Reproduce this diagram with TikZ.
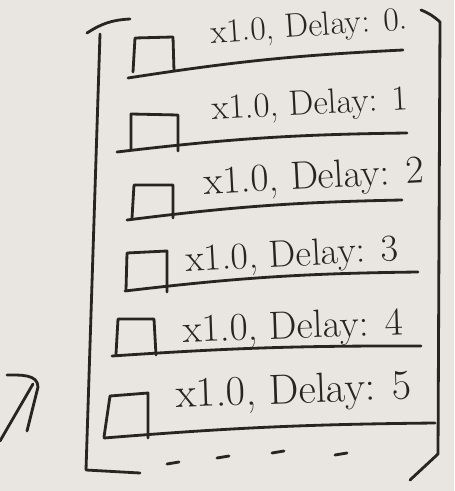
\documentclass[tikz,border=0pt]{standalone}
\usepackage{tikz}
\usepackage{xcolor}

\definecolor{paper}{RGB}{233,230,225}
\definecolor{ink}{RGB}{40,36,32}

\tikzset{
    pen/.style={ink, line width=2pt, line cap=round, line join=round},
    label/.style={ink, font=\fontsize{#1}{#1}\selectfont, inner sep=0pt},
    label/.default=24
}

\begin{document}
\begin{tikzpicture}[x=0.025cm, y=-0.025cm]
    % Paper
    \fill[paper] (0,0) rectangle (454,491);
    \useasboundingbox (0,0) rectangle (454,491);

    % Left bracket
    \draw[pen] (87,33) to[bend left=15] (130,19);
    \draw[pen] (100,34) -- (86,470) -- (140,473);

    % Right bracket
    \draw[pen] (421,10) to[bend left=10] (440,22) -- (438,454) -- (410,480);

    % Row 0
    \draw[pen] (133,72) -- (135,38) -- (173,37) -- (174,71);
    \draw[pen] (128,78) to[bend left=3] (403,50);
    \node[label=24, rotate=4] (t0) at (309,28) {x1.0, Delay: 0.};

    % Row 1
    \draw[pen] (131,150) -- (131,114) -- (178,115) -- (178,151);
    \draw[pen] (117,152) to[bend left=3] (407,133);
    \node[label=25, rotate=3] (t1) at (310,106) {x1.0, Delay: 1};

    % Row 2
    \draw[pen] (132,218) -- (134,185) -- (173,185) -- (173,218);
    \draw[pen] (127,220) to[bend left=3] (402,200);
    \node[label=28, rotate=3] (t2) at (314,179) {x1.0, Delay: 2};

    % Row 3
    \draw[pen] (126,290) -- (127,253) -- (167,251) -- (167,292);
    \draw[pen] (125,291) to[bend left=3] (418,272);
    \node[label=27, rotate=3] (t3) at (292,257) {x1.0, Delay: 3};

    % Row 4
    \draw[pen] (116,354) -- (118,319) -- (154,319) -- (156,355);
    \draw[pen] (112,356) to[bend left=2] (421,346);
    \node[label=28, rotate=2] (t4) at (293,329) {x1.0, Delay: 4};

    % Row 5
    \draw[pen] (104,437) -- (110,396) -- (148,393) -- (148,438);
    \draw[pen] (104,438) to[bend left=2] (435,423);
    \node[label=30, rotate=2] (t5) at (294,393) {x1.0, Delay: 5};

    % More rows below
    \foreach \x/\y in {167/464, 217/458, 272/453, 335/455}
        \draw[pen] (\x,\y) -- ++(12,-2);

    % Arrow at left
    \draw[pen] (0,441) -- (33,384);
    \draw[pen] (7,375) to[out=0, in=90] (38,387) -- (27,431);
\end{tikzpicture}
\end{document}
